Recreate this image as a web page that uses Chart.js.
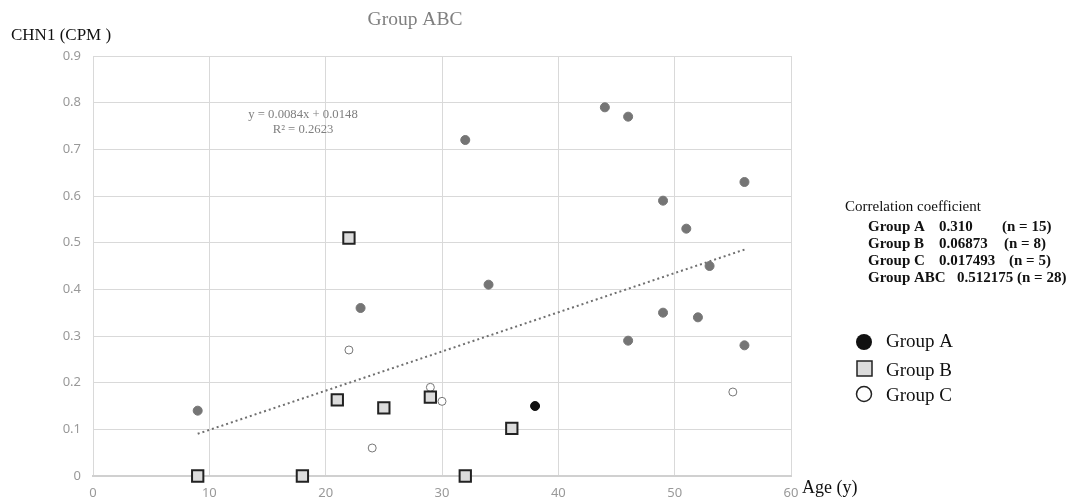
<!DOCTYPE html>
<html>
<head>
<meta charset="utf-8">
<script src="https://cdn.jsdelivr.net/npm/chart.js@4"></script>
<style>
  html, body { margin: 0; padding: 0; background: #fff; }
  #wrap { width: 1073px; height: 500px; position: relative; }
</style>
</head>
<body>
<div id="wrap"><canvas id="c" width="1073" height="500"></canvas></div>
<script>
// data
const groupAx = [9, 23, 32, 34, 44, 46, 49, 51, 56, 53, 46, 49, 52, 56, 38];
const groupAy = [0.14, 0.36, 0.72, 0.41, 0.79, 0.77, 0.59, 0.53, 0.63, 0.45, 0.29, 0.35, 0.34, 0.28, 0.15];
const groupBx = [9, 18, 21, 22, 25, 29, 32, 36];
const groupBy = [0, 0, 0.163, 0.51, 0.146, 0.169, 0, 0.102];
const groupCx = [22, 29, 30, 24, 55];
const groupCy = [0.27, 0.19, 0.16, 0.06, 0.18];
const trendX = [9, 56];
const trendY = [0.0904, 0.4852];
const xTicks = [0, 10, 20, 30, 40, 50, 60];
const yTicks = [0, 0.1, 0.2, 0.3, 0.4, 0.5, 0.6, 0.7, 0.8, 0.9];
const corrRows = [
  ["Group A", "0.310", "(n = 15)"],
  ["Group B", "0.06873", "(n = 8)"],
  ["Group C", "0.017493", "(n = 5)"],
  ["Group ABC", "0.512175", "(n = 28)"]
];

const pts = (xs, ys) => xs.map((x, i) => ({ x: x, y: ys[i] }));
const serif = '"Liberation Serif", "DejaVu Serif", serif';

const extras = {
  id: 'extras',
  afterDraw(chart) {
    const ctx = chart.ctx;
    ctx.save();
    ctx.textBaseline = 'alphabetic';
    // title
    ctx.fillStyle = '#7f7f7f';
    ctx.font = '19.5px ' + serif;
    ctx.textAlign = 'center';
    ctx.fillText('Group ABC', 415, 25);
    ctx.textAlign = 'left';
    // axis titles
    ctx.fillStyle = '#111';
    ctx.font = '17px ' + serif;
    ctx.fillText('CHN1 (CPM )', 11, 40);
    ctx.font = '18px ' + serif;
    ctx.fillText('Age (y)', 802, 493);
    // regression text
    ctx.fillStyle = '#7f7f7f';
    ctx.font = '12.7px ' + serif;
    ctx.textAlign = 'center';
    ctx.fillText('y = 0.0084x + 0.0148', 303, 118);
    ctx.fillText('R\u00b2 = 0.2623', 303, 133);
    ctx.textAlign = 'left';
    // correlation block
    ctx.fillStyle = '#111';
    ctx.font = '15px ' + serif;
    ctx.fillText('Correlation coefficient', 845, 211);
    ctx.font = 'bold 15px ' + serif;
    const nX = [1002, 1004, 1009];
    corrRows.forEach((r, i) => {
      const y = 231 + i * 17;
      ctx.fillText(r[0], 868, y);
      if (i < 3) {
        ctx.fillText(r[1], 939, y);
        ctx.fillText(r[2], nX[i], y);
      } else {
        ctx.fillText(r[1] + ' ' + r[2], 957, y);
      }
    });
    // legend
    ctx.font = '19px ' + serif;
    ctx.lineWidth = 1.5;
    ctx.fillStyle = '#111';
    ctx.beginPath(); ctx.arc(864, 342, 8, 0, Math.PI * 2); ctx.fill();
    ctx.fillStyle = '#dcdcdc'; ctx.strokeStyle = '#222';
    ctx.fillRect(857, 361, 15, 15); ctx.strokeRect(857, 361, 15, 15);
    ctx.fillStyle = '#fff';
    ctx.beginPath(); ctx.arc(864, 394, 7.5, 0, Math.PI * 2); ctx.fill(); ctx.stroke();
    ctx.fillStyle = '#111';
    ctx.fillText('Group A', 886, 347);
    ctx.fillText('Group B', 886, 376);
    ctx.fillText('Group C', 886, 401);
    ctx.restore();
  }
};

new Chart(document.getElementById('c'), {
  type: 'scatter',
  data: {
    datasets: [
      {
        label: 'Trend',
        type: 'line',
        data: pts(trendX, trendY),
        borderColor: '#6f6f6f',
        borderWidth: 2,
        borderDash: [2, 3],
        pointRadius: 0,
        fill: false,
        order: 4
      },
      {
        label: 'Group C',
        data: pts(groupCx, groupCy),
        pointRadius: 4,
        pointBackgroundColor: '#fff',
        pointBorderColor: '#777',
        pointBorderWidth: 1,
        order: 3
      },
      {
        label: 'Group A',
        data: pts(groupAx, groupAy),
        pointRadius: 4.5,
        pointBackgroundColor: ctx => ctx.dataIndex === groupAx.length - 1 ? '#111' : '#757575',
        pointBorderColor: ctx => ctx.dataIndex === groupAx.length - 1 ? '#111' : '#757575',
        pointBorderWidth: 1,
        order: 2
      },
      {
        label: 'Group B',
        data: pts(groupBx, groupBy),
        pointStyle: 'rect',
        pointRadius: 8,
        pointBackgroundColor: '#dcdcdc',
        pointBorderColor: '#222',
        pointBorderWidth: 2,
        clip: false,
        order: 1
      }
    ]
  },
  options: {
    responsive: false,
    animation: false,
    layout: { padding: { left: 0, right: 282, top: 56, bottom: 0 } },
    plugins: {
      legend: { display: false },
      title: { display: false },
      tooltip: { enabled: false }
    },
    scales: {
      x: {
        type: 'linear',
        min: 0, max: 60,
        afterBuildTicks: s => { s.ticks = xTicks.map(v => ({ value: v })); },
        afterFit: s => { s.height = 24; },
        grid: { color: '#d9d9d9', lineWidth: 1, drawTicks: false },
        border: { color: '#d0d0d0', width: 2 },
        ticks: { color: '#999', font: { family: 'Noto Sans', size: 13 }, padding: 9 }
      },
      y: {
        type: 'linear',
        min: 0, max: 0.9,
        afterBuildTicks: s => { s.ticks = yTicks.map(v => ({ value: v })); },
        afterFit: s => { s.width = 93; },
        grid: { color: '#d9d9d9', lineWidth: 1, drawTicks: false },
        border: { display: false },
        ticks: {
          color: '#999', font: { family: 'Noto Sans', size: 13 }, padding: 12,
          callback: v => Math.round(v * 10) / 10
        }
      }
    }
  },
  plugins: [extras]
});
</script>
</body>
</html>
